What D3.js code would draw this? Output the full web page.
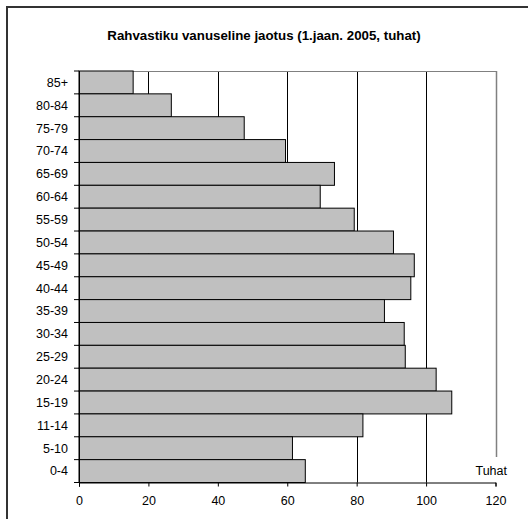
<!DOCTYPE html>
<html><head><meta charset="utf-8">
<script src="https://cdn.jsdelivr.net/npm/d3@7"></script>
<style>body{margin:0;background:#fff}svg{display:block}</style>
</head><body>
<script>
const categories = ["85+","80-84","75-79","70-74","65-69","60-64","55-59","50-54","45-49","40-44","35-39","30-34","25-29","20-24","15-19","11-14","5-10","0-4"];
const values = [15.6,26.6,47.6,59.5,73.6,69.5,79.3,90.6,96.6,95.6,88.0,93.7,94.0,102.9,107.4,81.8,61.5,65.2];
const xTicks = [0,20,40,60,80,100,120];
const title = "Rahvastiku vanuseline jaotus (1.jaan. 2005, tuhat)";
const unitLabel = "Tuhat";

const W = 528, H = 519;
const svg = d3.select("body").append("svg").attr("width", W).attr("height", H)
  .style("font-family", "Arial, 'Liberation Sans', sans-serif");

// outer frame
svg.append("rect").attr("x", 7).attr("y", 7).attr("width", 600).attr("height", 600)
  .attr("fill", "none").attr("stroke", "#333").attr("stroke-width", 2);

const L = 79, R = 495.5, T = 71, B = 482.5;
const x = d3.scaleLinear().domain([0,120]).range([L, R]);
const y = d3.scaleBand().domain(categories).range([T, B]).padding(0);

svg.append("text").attr("x", 264).attr("y", 40).attr("text-anchor", "middle")
  .attr("font-size", 13.3).attr("font-weight", "bold").text(title);

// grid lines
svg.append("g").selectAll("line").data(xTicks.filter(d => d > 0 && d < 120)).join("line")
  .attr("x1", d => Math.round(x(d)) + 0.5).attr("x2", d => Math.round(x(d)) + 0.5)
  .attr("y1", T).attr("y2", B).attr("stroke", "#000").attr("stroke-width", 1);
// right gray line (broken for unit label)
svg.append("line").attr("x1", Math.round(x(120)) + 0.5).attr("x2", Math.round(x(120)) + 0.5)
  .attr("y1", T).attr("y2", 457).attr("stroke", "#808080").attr("stroke-width", 1.5);
// top gray border
svg.append("line").attr("x1", L).attr("x2", x(120) + 1).attr("y1", T + 0.5).attr("y2", T + 0.5)
  .attr("stroke", "#808080").attr("stroke-width", 1);

// bars
svg.append("g").selectAll("rect").data(categories).join("rect")
  .attr("x", x(0)).attr("y", d => y(d))
  .attr("width", (d, i) => x(values[i]) - x(0)).attr("height", y.bandwidth())
  .attr("fill", "#c0c0c0").attr("stroke", "#000").attr("stroke-width", 1);

// x axis
const xAxis = d3.axisBottom(x).tickValues(xTicks).tickSize(4).tickPadding(10);
const gx = svg.append("g").attr("transform", `translate(0,${B})`).call(xAxis);
gx.select(".domain").attr("stroke", "#000");
gx.selectAll("text").attr("font-size", 12.5).attr("font-family", "Arial, 'Liberation Sans', sans-serif").attr("fill", "#000");

// y axis with ticks at band boundaries
const gy = svg.append("g").attr("transform", `translate(${L},0)`);
gy.append("line").attr("x1", 0.5).attr("x2", 0.5).attr("y1", T).attr("y2", B + 4).attr("stroke", "#000");
const bounds = categories.map(d => y(d)).concat([B]);
gy.selectAll("line.tk").data(bounds).join("line").attr("class", "tk")
  .attr("x1", -5).attr("x2", 0).attr("y1", d => d).attr("y2", d => d).attr("stroke", "#000");
gy.selectAll("text").data(categories).join("text")
  .attr("x", -11).attr("y", d => y(d) + y.bandwidth() / 2).attr("dy", "0.35em")
  .attr("text-anchor", "end").attr("font-size", 12.5).text(d => d);

svg.append("text").attr("x", 507).attr("y", 475).attr("text-anchor", "end")
  .attr("font-size", 12.5).text(unitLabel);
</script>
</body></html>
